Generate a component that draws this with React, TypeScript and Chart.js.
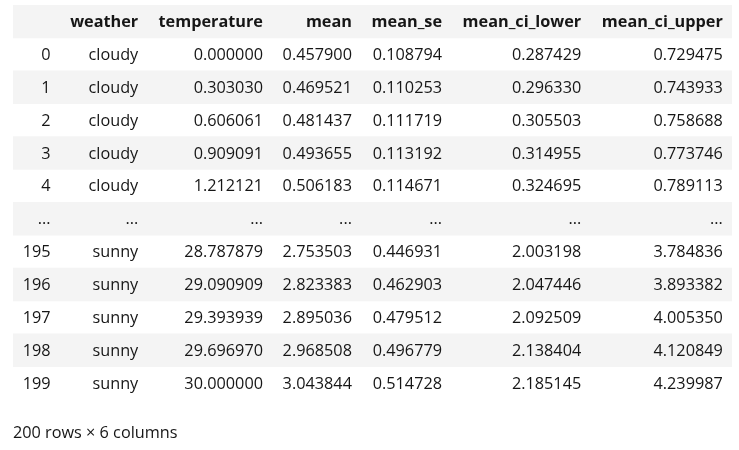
import React, { useEffect, useRef } from "react";
import { Chart, registerables } from "chart.js";

Chart.register(...registerables);

// ---- data (as shown in the DataFrame preview) ----
const columns = ["", "weather", "temperature", "mean", "mean_se", "mean_ci_lower", "mean_ci_upper"];
const indexLabels = ["0", "1", "2", "3", "4", "...", "195", "196", "197", "198", "199"];
const weather = ["cloudy", "cloudy", "cloudy", "cloudy", "cloudy", "...", "sunny", "sunny", "sunny", "sunny", "sunny"];
const temperature = ["0.000000", "0.303030", "0.606061", "0.909091", "1.212121", "...", "28.787879", "29.090909", "29.393939", "29.696970", "30.000000"];
const mean = ["0.457900", "0.469521", "0.481437", "0.493655", "0.506183", "...", "2.753503", "2.823383", "2.895036", "2.968508", "3.043844"];
const meanSe = ["0.108794", "0.110253", "0.111719", "0.113192", "0.114671", "...", "0.446931", "0.462903", "0.479512", "0.496779", "0.514728"];
const meanCiLower = ["0.287429", "0.296330", "0.305503", "0.314955", "0.324695", "...", "2.003198", "2.047446", "2.092509", "2.138404", "2.185145"];
const meanCiUpper = ["0.729475", "0.743933", "0.758688", "0.773746", "0.789113", "...", "3.784836", "3.893382", "4.005350", "4.120849", "4.239987"];
const footerText = "200 rows \u00d7 6 columns";

const cellColumns = [indexLabels, weather, temperature, mean, meanSe, meanCiLower, meanCiUpper];

// ---- styles ----
const FONT_FAMILY = '"Open Sans", "Noto Sans", sans-serif';
const FONT_SIZE = 16.25;
const CELL_PAD = 9;
const TEXT_COLOR = "#161616";
const STRIPE_COLOR = "#f4f4f4";

function fontString(bold: boolean) {
  return `${bold ? "bold " : ""}${FONT_SIZE}px ${FONT_FAMILY}`;
}

export default function App() {
  const canvasRef = useRef<HTMLCanvasElement | null>(null);

  useEffect(() => {
    const canvas = canvasRef.current;
    if (!canvas) return;
    const ctx = canvas.getContext("2d");
    if (!ctx) return;

    // auto table layout: each column is as wide as its widest text plus padding
    const edges: number[] = [0];
    columns.forEach((name, c) => {
      ctx.font = fontString(true);
      let w = ctx.measureText(name).width;
      ctx.font = fontString(false);
      cellColumns[c].forEach((t) => {
        w = Math.max(w, ctx.measureText(t).width);
      });
      edges.push(edges[edges.length - 1] + w + 2 * CELL_PAD);
    });
    const total = edges[edges.length - 1];

    const rowLabels = ["header", ...indexLabels];
    const stripe = rowLabels.map((_, r) => (r % 2 === 0 ? total : null));

    const tablePlugin = {
      id: "tableText",
      afterDatasetsDraw(chart: any) {
        const { ctx: g, scales } = chart;
        const xs = scales.x;
        const ys = scales.y;
        const k = (xs.right - xs.left) / total;
        g.save();
        g.fillStyle = TEXT_COLOR;
        g.textAlign = "right";
        g.textBaseline = "middle";
        rowLabels.forEach((_, r) => {
          const y = ys.getPixelForValue(r);
          columns.forEach((name, c) => {
            const text = r === 0 ? name : cellColumns[c][r - 1];
            g.font = fontString(r === 0);
            const x = xs.getPixelForValue(edges[c + 1]) - CELL_PAD * k;
            g.fillText(text, x, y + 1);
          });
        });
        g.restore();
      },
    };

    const chart = new Chart(canvas, {
      type: "bar",
      data: {
        labels: rowLabels,
        datasets: [
          {
            data: stripe as any,
            backgroundColor: STRIPE_COLOR,
            borderWidth: 0,
            barPercentage: 1,
            categoryPercentage: 1,
          },
        ],
      },
      options: {
        indexAxis: "y",
        animation: false,
        responsive: true,
        maintainAspectRatio: false,
        events: [],
        layout: { padding: { top: 5, left: 13, right: 7, bottom: 7 } },
        scales: {
          x: { type: "linear", min: 0, max: total, display: false },
          y: { type: "category", display: false, offset: true },
        },
        plugins: {
          legend: { display: false },
          tooltip: { enabled: false },
          title: {
            display: true,
            text: footerText,
            position: "bottom",
            align: "start",
            color: TEXT_COLOR,
            font: { family: FONT_FAMILY, size: FONT_SIZE, weight: "normal" },
            padding: { top: 24, bottom: 0 },
          },
        },
      },
      plugins: [tablePlugin],
    });

    return () => chart.destroy();
  }, []);

  return (
    <div style={{ position: "fixed", left: 0, top: 0, width: 739, height: 450, background: "#fff" }}>
      <canvas ref={canvasRef} />
    </div>
  );
}
